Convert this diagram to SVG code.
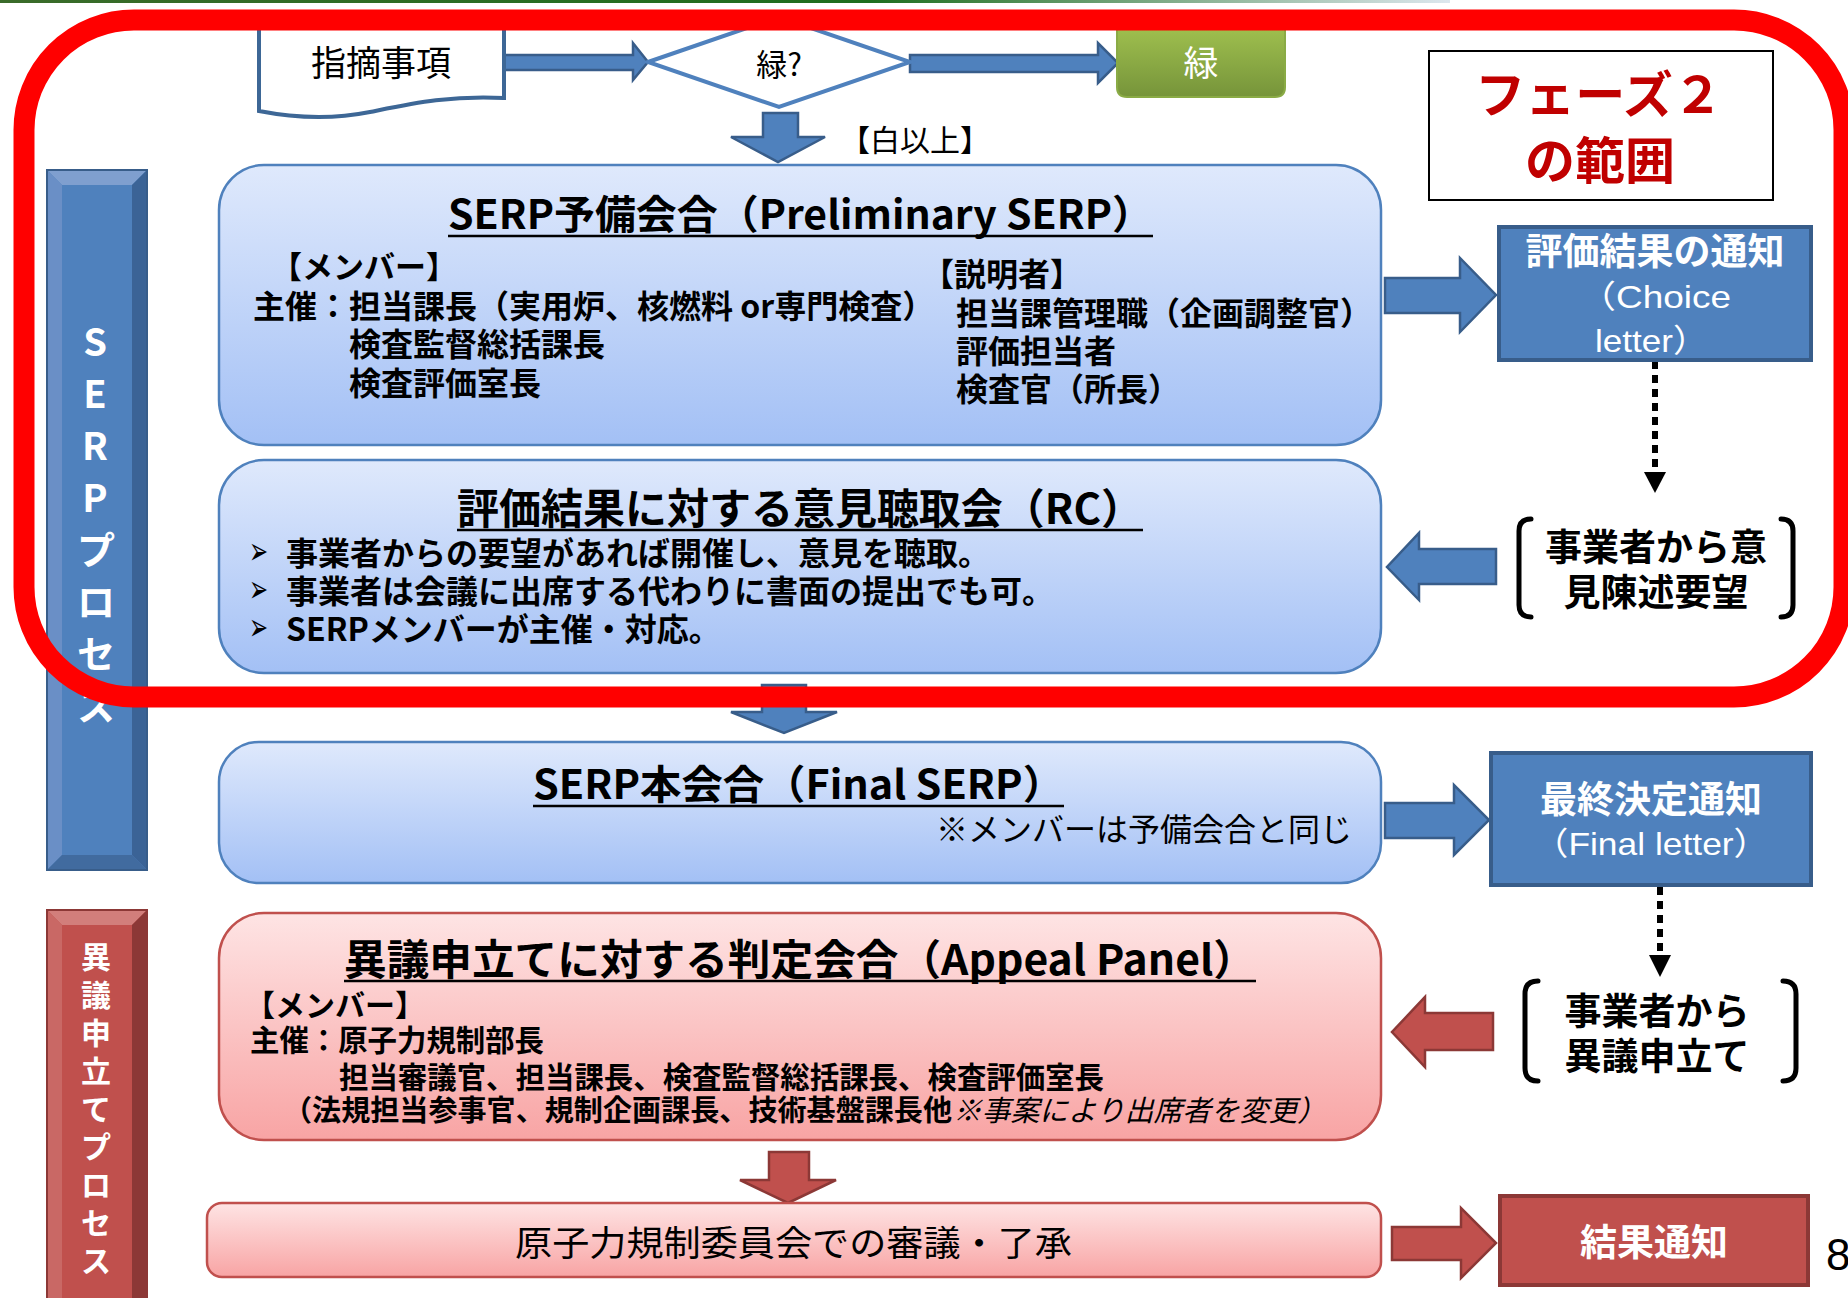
<svg xmlns="http://www.w3.org/2000/svg" width="1848" height="1298" viewBox="0 0 1848 1298">
<style>
.t{font-family:"Noto Sans CJK JP","Noto Sans",sans-serif;fill:#000}
.lat{font-family:"Liberation Sans","Noto Sans CJK JP",sans-serif}
.b{font-weight:700}
.w{fill:#fff}
.m{text-anchor:middle}
.arrB{fill:#4f81bd;stroke:#385d8a;stroke-width:2.5}
.arrR{fill:#c0504d;stroke:#8c3836;stroke-width:2.5}
.boxB{fill:url(#gBlue);stroke:#4f81bd;stroke-width:2.5}
.boxR{fill:url(#gRed);stroke:#c0504d;stroke-width:2.5}
.ul{stroke:#000;stroke-width:2.5}
.dash{stroke:#000;stroke-width:6;stroke-dasharray:8 6;fill:none}
.brk{fill:none;stroke:#000;stroke-width:5;stroke-linecap:round}
.bul{font-family:"DejaVu Sans",sans-serif;font-size:38px}
</style>
<defs>
<linearGradient id="gBlue" x1="0" y1="0" x2="0" y2="1"><stop offset="0" stop-color="#dfe9fc"/><stop offset="1" stop-color="#a3c0f5"/></linearGradient>
<linearGradient id="gRed" x1="0" y1="0" x2="0" y2="1"><stop offset="0" stop-color="#fee4e4"/><stop offset="1" stop-color="#f8a4a4"/></linearGradient>
<linearGradient id="gGreen" x1="0" y1="0" x2="0" y2="1"><stop offset="0" stop-color="#a8c953"/><stop offset="1" stop-color="#76943a"/></linearGradient>
<linearGradient id="gTop" x1="0" y1="0" x2="1" y2="0"><stop offset="0" stop-color="#3a6b2a"/><stop offset="0.6" stop-color="#1e6e1e"/><stop offset="1" stop-color="#dde7ee"/></linearGradient>
</defs>
<rect width="1848" height="1298" fill="#fff"/>
<rect x="0" y="0" width="1450" height="3" fill="url(#gTop)"/>

<g id="connectors">
<polygon class="arrB" points="504,55 633,55 633,43 648,62 633,80 633,70 504,70"/>
<polygon class="arrB" points="910,55 1098,55 1098,43 1118,63 1098,83 1098,72 910,72"/>
<polygon class="arrB" points="763,113 798,113 798,137 825,137 778,162 731,137 763,137"/>
<polygon class="arrB" points="1385,278 1460,278 1460,258 1496,295 1460,332 1460,313 1385,313"/>
<polygon class="arrB" points="1496,549 1419,549 1419,533 1387,567 1419,600 1419,584 1496,584"/>
<polygon class="arrB" points="762,685 806,685 806,712 837,712 784,733 731,712 762,712"/>
<polygon class="arrB" points="1385,803 1454,803 1454,785 1489,820 1454,855 1454,838 1385,838"/>
<polygon class="arrR" points="1493,1013 1425,1013 1425,997 1392,1032 1425,1067 1425,1050 1493,1050"/>
<polygon class="arrR" points="769,1152 809,1152 809,1180 836,1180 788,1203 740,1180 769,1180"/>
<polygon class="arrR" points="1392,1227 1461,1227 1461,1208 1496,1243 1461,1278 1461,1260 1392,1260"/>
<line class="dash" x1="1655" y1="361" x2="1655" y2="472"/>
<polygon points="1644,472 1666,472 1655,493" fill="#000"/>
<line class="dash" x1="1660" y1="887" x2="1660" y2="955"/>
<polygon points="1649,955 1671,955 1660,977" fill="#000"/>
</g>

<g id="shiteki">
<path d="M259,12 H504 V98 C450,95 410,104 370,112 C330,120 295,118 259,111 Z" fill="#fff" stroke="#3d6796" stroke-width="4"/>
<text class="t m" x="381" y="76" font-size="35">指摘事項</text>
</g>

<g id="midori-q">
<polygon points="648,62 779,17 910,62 779,107" fill="#fff" stroke="#4f81bd" stroke-width="4"/>
<text class="t m" x="779" y="76" font-size="31">緑?</text>
</g>

<g id="midori">
<path d="M1117,12 H1285 V87 Q1285,97 1275,97 H1127 Q1117,97 1117,87 Z" fill="url(#gGreen)" stroke="#8aab45" stroke-width="2"/>
<text class="t w m" x="1201" y="76" font-size="35">緑</text>
</g>

<g id="label-white">
<text class="t" x="840" y="151" font-size="30">【白以上】</text>
</g>

<g id="phase2">
<rect x="1429" y="51" width="344" height="149" fill="#fff" stroke="#000" stroke-width="2"/>
<text class="t b m" x="1599" y="113" font-size="50" style="fill:#c00000">フェーズ２</text>
<text class="t b m" x="1600" y="179" font-size="50" style="fill:#c00000">の範囲</text>
</g>

<g id="serp-bar">
<rect x="47" y="170" width="100" height="700" fill="#4f81bd"/>
<polygon points="47,170 147,170 132,185 62,185" fill="#7f9fcf"/>
<polygon points="47,170 62,185 62,855 47,870" fill="#6a8fc6"/>
<polygon points="147,170 147,870 132,855 132,185" fill="#3b6396"/>
<polygon points="47,870 147,870 132,855 62,855" fill="#416b9f"/>
<rect x="47" y="170" width="100" height="700" fill="none" stroke="#385d8a" stroke-width="2"/>
<text class="t b w m" font-size="38"><tspan x="95" y="356">S</tspan><tspan x="95" y="408">E</tspan><tspan x="95" y="460">R</tspan><tspan x="95" y="512">P</tspan><tspan x="96" y="564">プ</tspan><tspan x="96" y="616">ロ</tspan><tspan x="96" y="668">セ</tspan><tspan x="96" y="720">ス</tspan></text>
</g>

<g id="appeal-bar">
<rect x="47" y="910" width="100" height="392" fill="#c0504d"/>
<polygon points="47,910 147,910 132,925 62,925" fill="#d27e7b"/>
<polygon points="47,910 62,925 62,1300 47,1300" fill="#c96865"/>
<polygon points="147,910 147,1300 132,1300 132,925" fill="#8c3836"/>
<rect x="47" y="910" width="100" height="392" fill="none" stroke="#8c3836" stroke-width="2"/>
<text class="t b w m" font-size="30"><tspan x="96" y="968">異</tspan><tspan x="96" y="1006">議</tspan><tspan x="96" y="1044">申</tspan><tspan x="96" y="1082">立</tspan><tspan x="96" y="1120">て</tspan><tspan x="96" y="1158">プ</tspan><tspan x="96" y="1196">ロ</tspan><tspan x="96" y="1234">セ</tspan><tspan x="96" y="1272">ス</tspan></text>
</g>

<g id="prelim">
<rect class="boxB" x="219" y="165" width="1162" height="280" rx="45"/>
<text class="t b" x="448" y="229" font-size="40" textLength="705" lengthAdjust="spacingAndGlyphs">SERP予備会合（Preliminary SERP）</text>
<line class="ul" x1="448" y1="236" x2="1153" y2="236"/>
<text class="t b" x="271" y="278" font-size="31">【メンバー】</text>
<text class="t b" x="253" y="318" font-size="32">主催：担当課長（実用炉、核燃料 or専門検査）</text>
<text class="t b" x="349" y="356" font-size="32">検査監督総括課長</text>
<text class="t b" x="349" y="395" font-size="32">検査評価室長</text>
<text class="t b" x="922" y="286" font-size="32">【説明者】</text>
<text class="t b" x="956" y="325" font-size="32">担当課管理職（企画調整官）</text>
<text class="t b" x="956" y="363" font-size="32">評価担当者</text>
<text class="t b" x="956" y="401" font-size="32">検査官（所長）</text>
</g>

<g id="choice">
<rect x="1499" y="227" width="312" height="133" fill="#4f81bd" stroke="#385d8a" stroke-width="4"/>
<text class="t b w m" x="1655" y="265" font-size="37">評価結果の通知</text>
<text class="lat w" x="1579" y="308" font-size="32" textLength="152" lengthAdjust="spacingAndGlyphs">（Choice</text>
<text class="lat w" x="1595" y="352" font-size="32" textLength="113" lengthAdjust="spacingAndGlyphs">letter）</text>
</g>

<g id="request-opinion">
<path class="brk" d="M1531,519 Q1519,519 1519,531 V605 Q1519,617 1531,617"/>
<path class="brk" d="M1781,519 Q1793,519 1793,531 V605 Q1793,617 1781,617"/>
<text class="t b m" x="1656" y="561" font-size="37">事業者から意</text>
<text class="t b m" x="1656" y="606" font-size="37">見陳述要望</text>
</g>

<g id="rc">
<rect class="boxB" x="219" y="460" width="1162" height="213" rx="45"/>
<text class="t b" x="457" y="524" font-size="42" textLength="686" lengthAdjust="spacingAndGlyphs">評価結果に対する意見聴取会（RC）</text>
<line class="ul" x1="457" y1="530" x2="1143" y2="530"/>
<text class="bul" transform="translate(249,564) scale(0.6,1)">➢</text>
<text class="t b" x="286" y="565" font-size="32">事業者からの要望があれば開催し、意見を聴取。</text>
<text class="bul" transform="translate(249,602) scale(0.6,1)">➢</text>
<text class="t b" x="286" y="603" font-size="32">事業者は会議に出席する代わりに書面の提出でも可。</text>
<text class="bul" transform="translate(249,640) scale(0.6,1)">➢</text>
<text class="t b" x="286" y="641" font-size="32">SERPメンバーが主催・対応。</text>
</g>

<g id="final">
<rect class="boxB" x="219" y="742" width="1162" height="141" rx="40"/>
<text class="t b" x="533" y="799" font-size="40" textLength="531" lengthAdjust="spacingAndGlyphs">SERP本会合（Final SERP）</text>
<line class="ul" x1="533" y1="806" x2="1064" y2="806"/>
<text class="t" x="936" y="841" font-size="32">※メンバーは予備会合と同じ</text>
</g>

<g id="final-letter">
<rect x="1491" y="753" width="320" height="132" fill="#4f81bd" stroke="#385d8a" stroke-width="4"/>
<text class="t b w m" x="1651" y="813" font-size="37">最終決定通知</text>
<text class="lat w" x="1533" y="855" font-size="32" textLength="236" lengthAdjust="spacingAndGlyphs">（Final letter）</text>
</g>

<g id="request-appeal">
<path class="brk" d="M1538,981 Q1525,981 1525,994 V1068 Q1525,1081 1538,1081"/>
<path class="brk" d="M1783,981 Q1796,981 1796,994 V1068 Q1796,1081 1783,1081"/>
<text class="t b m" x="1657" y="1025" font-size="37">事業者から</text>
<text class="t b m" x="1657" y="1070" font-size="37">異議申立て</text>
</g>

<g id="appeal">
<rect class="boxR" x="219" y="913" width="1162" height="227" rx="45"/>
<text class="t b" x="344" y="975" font-size="42" textLength="912" lengthAdjust="spacingAndGlyphs">異議申立てに対する判定会合（Appeal Panel）</text>
<line class="ul" x1="344" y1="981" x2="1256" y2="981"/>
<text class="t b" x="245" y="1016" font-size="30">【メンバー】</text>
<text class="t b" x="250" y="1051" font-size="30" textLength="294" lengthAdjust="spacingAndGlyphs">主催：原子力規制部長</text>
<text class="t b" x="339" y="1088" font-size="30" textLength="765" lengthAdjust="spacingAndGlyphs">担当審議官、担当課長、検査監督総括課長、検査評価室長</text>
<text class="t b" x="283" y="1121" font-size="29" textLength="669" lengthAdjust="spacingAndGlyphs">（法規担当参事官、規制企画課長、技術基盤課長他</text>
<text class="t" x="953" y="1121" font-size="29" font-style="italic" textLength="373" lengthAdjust="spacingAndGlyphs">※事案により出席者を変更）</text>
</g>

<g id="nra">
<rect class="boxR" x="207" y="1203" width="1174" height="74" rx="15"/>
<text class="t" x="515" y="1256" font-size="35" textLength="557" lengthAdjust="spacingAndGlyphs">原子力規制委員会での審議・了承</text>
</g>

<g id="result">
<rect x="1500" y="1196" width="308" height="89" fill="#c0504d" stroke="#8c3836" stroke-width="4"/>
<text class="t b w m" x="1654" y="1256" font-size="37">結果通知</text>
</g>

<g id="phase-frame">
<rect x="24" y="20" width="1820" height="677" rx="110" fill="none" stroke="#ff0000" stroke-width="21"/>
</g>

<text x="1826" y="1270" font-family="Liberation Sans, sans-serif" font-size="44">8</text>
</svg>
